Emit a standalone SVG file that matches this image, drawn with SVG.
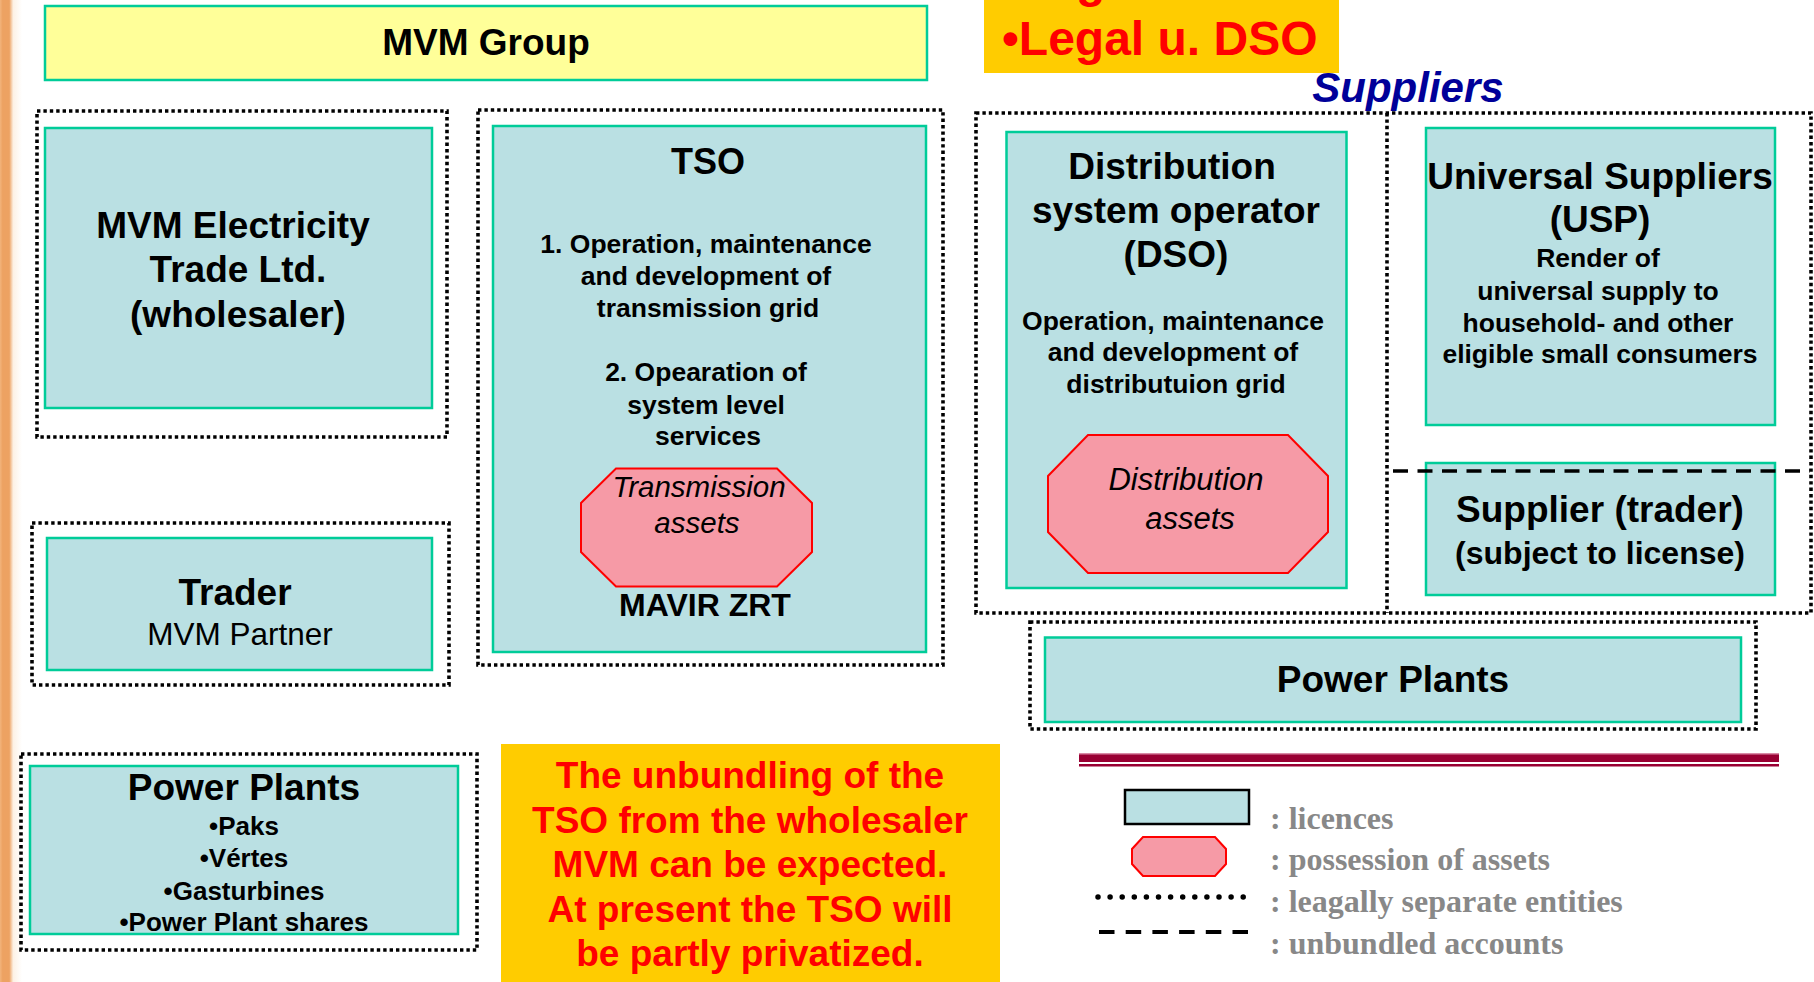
<svg xmlns="http://www.w3.org/2000/svg" width="1814" height="982" viewBox="0 0 1814 982">
<defs>
<linearGradient id="stripe" x1="0" y1="0" x2="1" y2="0">
<stop offset="0" stop-color="#F2B47C"/>
<stop offset="0.12" stop-color="#EDA262"/>
<stop offset="0.42" stop-color="#EDA262"/>
<stop offset="0.6" stop-color="#FDF1E4"/>
<stop offset="1" stop-color="#FFFFFF"/>
</linearGradient>
<style>
.lic{fill:#BAE0E3;stroke:#00CC99;stroke-width:2.5}
.sep{fill:none;stroke:#000;stroke-width:3.6;stroke-dasharray:3.4 3}
.ast{fill:#F69AA6;stroke:#FF0000;stroke-width:2}
.t{font-family:"Liberation Sans",Arial,sans-serif;fill:#000;text-anchor:middle}
.b{font-weight:bold}
.i{font-style:italic}
.red{fill:#FF0000}
.leg{font-family:"Liberation Serif","Times New Roman",serif;font-weight:bold;fill:#888888;font-size:32px}
</style>
</defs>
<rect x="0" y="0" width="1814" height="982" fill="#FFFFFF"/>
<rect x="0" y="0" width="22" height="982" fill="url(#stripe)"/>

<g id="mvm-group">
<rect x="45" y="6" width="882" height="74" fill="#FFFF99" stroke="#00CC99" stroke-width="2.5"/>
<text class="t b" x="486" y="55" font-size="37">MVM Group</text>
</g>

<g id="legal-note">
<rect x="984" y="0" width="355" height="73" fill="#FFCC00"/>
<text class="t b red" x="1076" y="-3" font-size="48" style="text-anchor:start">g</text>
<text class="t b red" x="1002" y="55" font-size="48" style="text-anchor:start">•Legal u. DSO</text>
</g>

<g id="suppliers-label">
<text class="t b i" x="1408" y="102" font-size="42" style="fill:#000099">Suppliers</text>
</g>

<g id="wholesaler">
<rect class="sep" x="37" y="111" width="410" height="326"/>
<rect class="lic" x="45" y="128" width="387" height="280"/>
<text class="t b" x="233" y="238" font-size="37">MVM Electricity</text>
<text class="t b" x="238" y="282" font-size="37">Trade Ltd.</text>
<text class="t b" x="238" y="327" font-size="37">(wholesaler)</text>
</g>

<g id="tso">
<rect class="sep" x="478" y="110" width="465" height="555"/>
<rect class="lic" x="493" y="126" width="433" height="526"/>
<text class="t b" x="708" y="174" font-size="36">TSO</text>
<text class="t b" x="706" y="253" font-size="26.5">1. Operation, maintenance</text>
<text class="t b" x="706" y="285" font-size="26.5">and development of</text>
<text class="t b" x="708" y="317" font-size="26.5">transmission grid</text>
<text class="t b" x="706" y="381" font-size="26.5">2. Opearation of</text>
<text class="t b" x="706" y="414" font-size="26.5">system level</text>
<text class="t b" x="708" y="445" font-size="26.5">services</text>
<polygon class="ast" points="616,468.5 777,468.5 812,503 812,552 777,586.5 616,586.5 581,552 581,503"/>
<text class="t i" x="699" y="497" font-size="29.5">Transmission</text>
<text class="t i" x="697" y="533" font-size="29.5">assets</text>
<text class="t b" x="705" y="616" font-size="32">MAVIR ZRT</text>
</g>

<g id="trader">
<rect class="sep" x="32" y="523" width="417" height="162"/>
<rect class="lic" x="47" y="538" width="385" height="132"/>
<text class="t b" x="235" y="605" font-size="37">Trader</text>
<text class="t" x="240" y="645" font-size="31.5">MVM Partner</text>
</g>

<g id="power-plants-mvm">
<rect class="sep" x="21" y="754" width="456" height="196"/>
<rect class="lic" x="30" y="766" width="428" height="168"/>
<text class="t b" x="244" y="800" font-size="37">Power Plants</text>
<text class="t b" x="244" y="835" font-size="26">•Paks</text>
<text class="t b" x="244" y="867" font-size="26">•Vértes</text>
<text class="t b" x="244" y="900" font-size="26">•Gasturbines</text>
<text class="t b" x="244" y="931" font-size="26">•Power Plant shares</text>
</g>

<g id="unbundling-note">
<rect x="501" y="744" width="499" height="238" fill="#FFCC00"/>
<text class="t b red" x="750" y="788" font-size="37">The unbundling of the</text>
<text class="t b red" x="750" y="833" font-size="37">TSO from the wholesaler</text>
<text class="t b red" x="750" y="877" font-size="37">MVM can be expected.</text>
<text class="t b red" x="750" y="922" font-size="37">At present the TSO will</text>
<text class="t b red" x="750" y="966" font-size="37">be partly privatized.</text>
</g>

<g id="connectors">
<rect class="sep" x="976" y="113" width="835" height="500"/>
<line class="sep" x1="1387" y1="113" x2="1387" y2="613"/>
</g>

<g id="dso">
<rect class="lic" x="1006.5" y="132" width="340" height="456"/>
<text class="t b" x="1172" y="179" font-size="37">Distribution</text>
<text class="t b" x="1176" y="223" font-size="37">system operator</text>
<text class="t b" x="1176" y="267" font-size="37">(DSO)</text>
<text class="t b" x="1173" y="330" font-size="26.5">Operation, maintenance</text>
<text class="t b" x="1173" y="361" font-size="26.5">and development of</text>
<text class="t b" x="1176" y="393" font-size="26.5">distributuion grid</text>
<polygon class="ast" points="1088,435 1288,435 1328,476 1328,532 1288,573 1088,573 1048,532 1048,476"/>
<text class="t i" x="1186" y="490" font-size="31">Distribution</text>
<text class="t i" x="1190" y="529" font-size="31">assets</text>
</g>

<g id="usp">
<rect class="lic" x="1426" y="128" width="349" height="297"/>
<text class="t b" x="1600" y="189" font-size="37">Universal Suppliers</text>
<text class="t b" x="1600" y="232" font-size="37">(USP)</text>
<text class="t b" x="1598" y="267" font-size="26.5">Render of</text>
<text class="t b" x="1598" y="300" font-size="26.5">universal supply to</text>
<text class="t b" x="1598" y="332" font-size="26.5">household- and other</text>
<text class="t b" x="1600" y="363" font-size="26.5">eligible small consumers</text>
</g>

<g id="supplier-trader">
<rect class="lic" x="1426" y="463" width="349" height="132"/>
<text class="t b" x="1600" y="522" font-size="37">Supplier (trader)</text>
<text class="t b" x="1600" y="564" font-size="32">(subject to license)</text>
</g>

<g id="unbundled-line">
<line x1="1393" y1="471" x2="1810" y2="471" stroke="#000" stroke-width="3.5" stroke-dasharray="15 9.5"/>
</g>

<g id="power-plants-other">
<rect class="sep" x="1030" y="622" width="726" height="107"/>
<rect class="lic" x="1045" y="637.5" width="696" height="84.5"/>
<text class="t b" x="1393" y="692" font-size="37">Power Plants</text>
</g>

<g id="legend">
<rect x="1079" y="754" width="700" height="8" fill="#990033"/>
<rect x="1079" y="753" width="700" height="1.5" fill="#D98AA6"/>
<rect x="1079" y="764" width="700" height="2.5" fill="#990033"/>
<rect x="1125" y="790" width="124" height="34" fill="#BAE0E3" stroke="#000" stroke-width="2.5"/>
<polygon class="ast" points="1143,837 1215,837 1226,849 1226,864 1215,876 1143,876 1132,864 1132,849"/>
<line x1="1098" y1="897" x2="1245" y2="897" stroke="#000" stroke-width="5.5" stroke-linecap="round" stroke-dasharray="0 12.1"/>
<line x1="1099" y1="932" x2="1248" y2="932" stroke="#000" stroke-width="4" stroke-dasharray="15.5 11.2"/>
<text class="leg" x="1270" y="829">: licences</text>
<text class="leg" x="1270" y="870">: possession of assets</text>
<text class="leg" x="1270" y="912">: leagally separate entities</text>
<text class="leg" x="1270" y="954">: unbundled accounts</text>
</g>
</svg>
